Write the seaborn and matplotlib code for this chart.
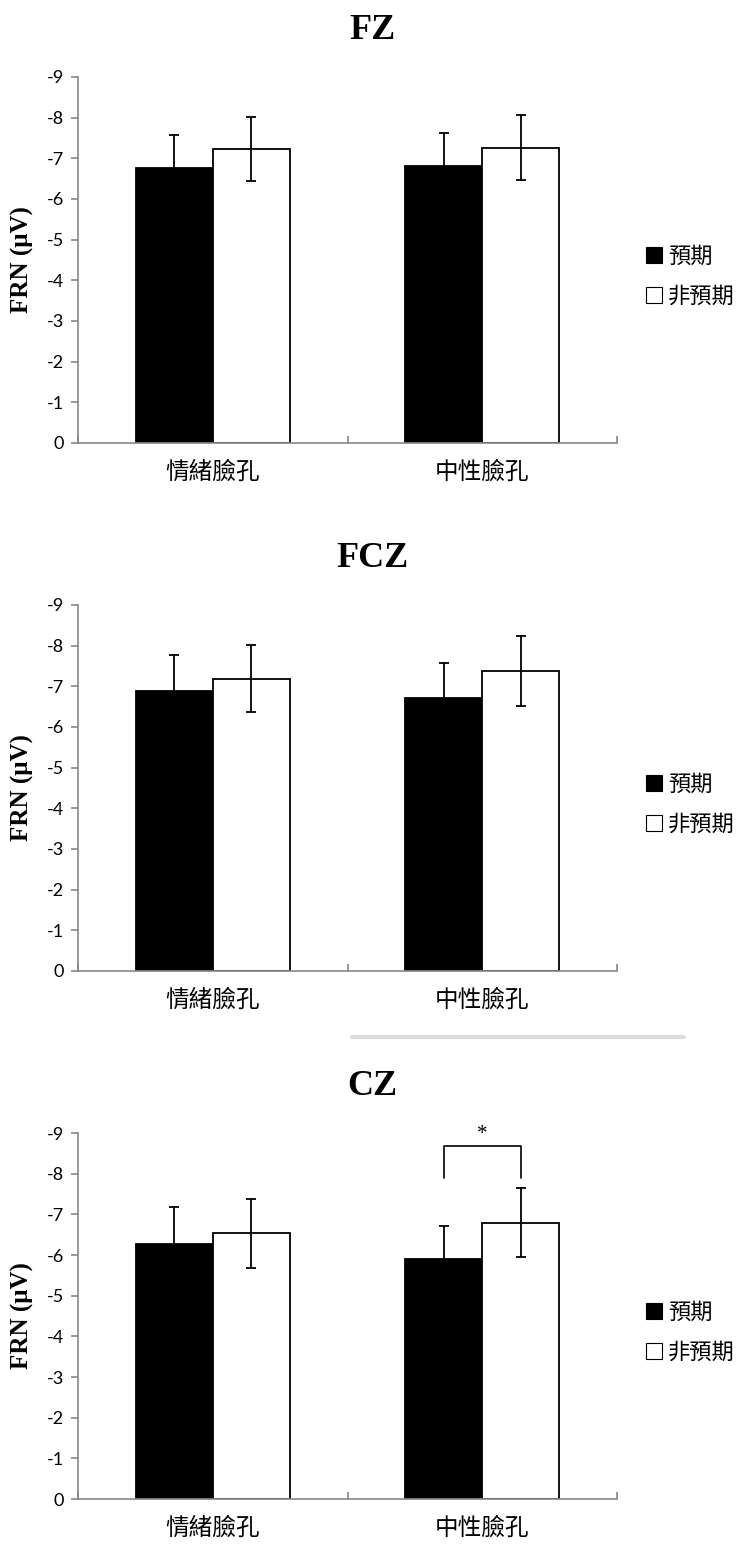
import matplotlib
matplotlib.use('Agg')
import pandas as pd
import seaborn as sns
from matplotlib import pyplot as plt
from matplotlib.lines import Line2D

# values (FRN amplitude, uV)
faces = ['情緒臉孔', '中性臉孔']
conditions = ['預期', '非預期']

fz_expected = [-6.77, -6.81]
fz_unexpected = [-7.22, -7.26]
fz_expected_err = [0.80, 0.81]
fz_unexpected_err = [0.79, 0.80]

fcz_expected = [-6.88, -6.72]
fcz_unexpected = [-7.19, -7.38]
fcz_expected_err = [0.88, 0.85]
fcz_unexpected_err = [0.83, 0.86]

cz_expected = [-6.27, -5.91]
cz_unexpected = [-6.53, -6.80]
cz_expected_err = [0.92, 0.81]
cz_unexpected_err = [0.86, 0.84]

y_ticks = [-9, -8, -7, -6, -5, -4, -3, -2, -1, 0]

sns.set_style('white')
plt.rcParams['font.family'] = ['Lato', 'DejaVu Sans']
plt.rcParams['axes.unicode_minus'] = False
plt.rcParams['text.color'] = 'black'
plt.rcParams['axes.labelcolor'] = 'black'

CJK = ['Noto Sans CJK TC', 'DejaVu Sans']
SERIF = ['Liberation Serif', 'DejaVu Serif']
GREY = '#878787'

panels = [
    ('FZ', fz_expected, fz_unexpected, fz_expected_err, fz_unexpected_err, 0.7135),
    ('FCZ', fcz_expected, fcz_unexpected, fcz_expected_err, fcz_unexpected_err, 0.3720),
    ('CZ', cz_expected, cz_unexpected, cz_expected_err, cz_unexpected_err, 0.0304),
]

fig = plt.figure(figsize=(7.45, 15.46), dpi=100)

for name, expected, unexpected, exp_err, unexp_err, bottom in panels:
    ax = fig.add_axes([0.1047, bottom, 0.7235, 0.2367])
    df = pd.DataFrame({
        'face': faces + faces,
        'cond': [conditions[0]] * 2 + [conditions[1]] * 2,
        'frn': expected + unexpected,
    })
    sns.barplot(data=df, x='face', y='frn', hue='cond', order=faces, hue_order=conditions,
                palette={'預期': 'black', '非預期': 'white'}, edgecolor='black', linewidth=1.3,
                width=0.57, errorbar=None, ax=ax)

    # error bars on top of the bars
    centers = []
    for cont, errs in zip(ax.containers, [exp_err, unexp_err]):
        xs = [b.get_x() + b.get_width() / 2 for b in cont]
        ys = [b.get_height() for b in cont]
        centers.append(xs)
        ax.errorbar(xs, ys, yerr=errs, fmt='none', ecolor='black', elinewidth=1.3,
                    capsize=3.6, capthick=1.3, zorder=5)

    ax.set_xlim(-0.5, 1.5)
    ax.set_ylim(0, -9)
    ax.set_yticks(y_ticks)
    ax.set_yticklabels([str(v) for v in y_ticks])
    ax.set_xlabel('')
    ax.set_ylabel('FRN (μV)', family=SERIF, fontweight='bold', fontsize=18, color='black')
    ax.yaxis.set_label_coords(-0.081, 0.5)

    sns.despine(ax=ax)
    for side in ['left', 'bottom']:
        ax.spines[side].set_color(GREY)
        ax.spines[side].set_linewidth(1.2)

    ax.tick_params(axis='y', direction='out', length=5, width=1.2, color=GREY,
                   labelcolor='black', labelsize=13, pad=5, left=True)
    ax.set_xticks([-0.5, 0.5, 1.5], minor=True)
    ax.tick_params(axis='x', which='minor', direction='in', length=5, width=1.2, color=GREY, bottom=True)
    ax.tick_params(axis='x', which='major', length=0, pad=13, labelcolor='black')
    for lab in ax.get_xticklabels():
        lab.set_fontfamily(CJK)
        lab.set_fontsize(17)

    handles = [
        Line2D([], [], marker='s', linestyle='none', markersize=11,
               markerfacecolor='black', markeredgecolor='black', markeredgewidth=0.8),
        Line2D([], [], marker='s', linestyle='none', markersize=11,
               markerfacecolor='white', markeredgecolor='black', markeredgewidth=0.8),
    ]
    ax.legend(handles, conditions, loc='center left', bbox_to_anchor=(1.055, 0.455),
              frameon=False, prop={'family': CJK, 'size': 16}, handlelength=0.7,
              handletextpad=0.25, labelspacing=0.75, borderaxespad=0, borderpad=0)

    # panel title, centred on the figure
    top = bottom + 0.2367
    fig.text(0.5, top + 38 / 1546, name, ha='center', va='baseline', family=SERIF,
             fontsize=26, fontweight='bold', color='black')

    if name == 'CZ':
        x0, x1 = centers[0][1], centers[1][1]
        ax.plot([x0, x0, x1, x1], [-7.9, -8.68, -8.68, -7.9], color='black', lw=1.2,
                clip_on=False, zorder=6)
        ax.text((x0 + x1) / 2, -8.72, '*', ha='center', va='bottom', family=SERIF,
                fontsize=15, clip_on=False)

# faint scan artefact between the second and third panel
fig.add_artist(Line2D([352 / 745, 684 / 745], [1 - 1037 / 1546] * 2, color='#dddddd', lw=3))

fig.savefig('out.png', dpi=100)
